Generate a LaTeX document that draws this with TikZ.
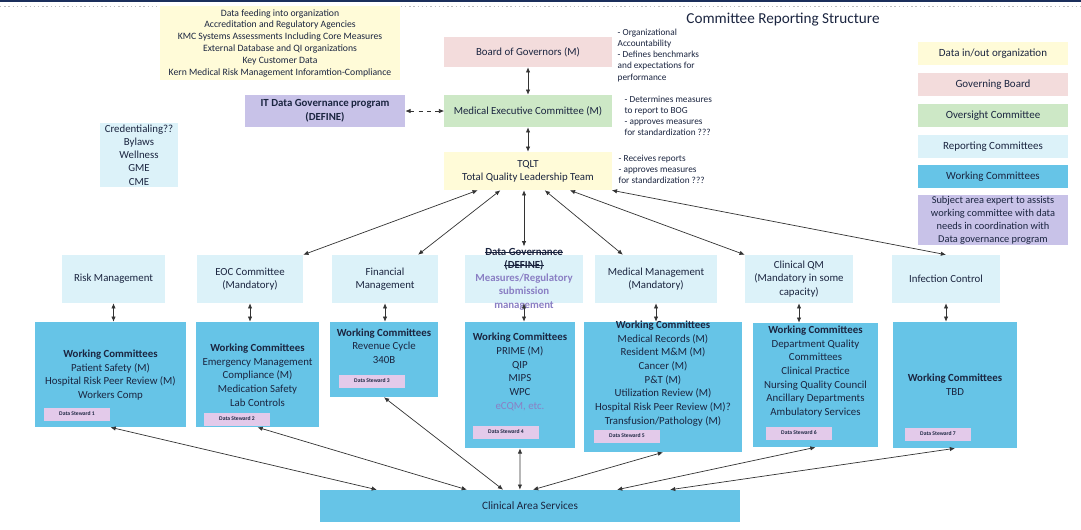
\documentclass[tikz,border=0pt]{standalone}
\usepackage{fontspec}
\setmainfont{Carlito}
\usetikzlibrary{calc,arrows.meta,positioning}
\definecolor{crs-text}{HTML}{1B2540}
\definecolor{crs-navy}{HTML}{1B2F5C}
\definecolor{crs-line}{HTML}{333333}
\definecolor{crs-yellow}{HTML}{FFFBD8}
\definecolor{crs-pink}{HTML}{F3DCDC}
\definecolor{crs-green}{HTML}{CDE8C6}
\definecolor{crs-cyan}{HTML}{DCF2F9}
\definecolor{crs-blue}{HTML}{66C4E7}
\definecolor{crs-lav}{HTML}{C8C2E8}
\definecolor{crs-pill}{HTML}{E3CAEA}
\definecolor{crs-purple}{HTML}{8A7FC4}
\newcommand{\strk}[1]{\setbox0\hbox{#1}\rlap{\rule[0.27em]{\wd0}{0.5pt}}\box0}

\begin{document}
\begin{tikzpicture}[
    x=0.025cm, y=-0.025cm,
    font=\fontsize{7.7}{9.4}\selectfont,
    >={Latex[length=1.3mm,width=1.1mm]}
  ]

  % Global Style Definitions
  \tikzset{
    crsbase/.style={text=crs-text, align=center, inner sep=1pt},
    datain/.style={crsbase, fill=crs-yellow, minimum width=6cm, minimum height=1.85cm, font=\fontsize{6.9}{8.4}\selectfont},
    govbox/.style={crsbase, fill=crs-pink, minimum width=4.175cm, minimum height=0.75cm},
    oversight/.style={crsbase, fill=crs-green, minimum width=4.175cm, minimum height=0.8cm},
    itbox/.style={crsbase, fill=crs-lav, minimum width=4cm, minimum height=0.8cm, font=\fontsize{7.7}{9.6}\selectfont\bfseries},
    repbox/.style={crsbase, fill=crs-cyan, minimum height=1.2cm},
    workbox/.style={crsbase, fill=crs-blue},
    wctext/.style={crsbase, font=\fontsize{7.7}{9.7}\selectfont},
    pill/.style={crsbase, fill=crs-pill, minimum width=1.65cm, minimum height=0.325cm, font=\fontsize{4}{5}\selectfont\bfseries},
    note/.style={crsbase, align=left, anchor=north west, font=\fontsize{6.6}{8}\selectfont},
    keybox/.style={crsbase, minimum width=3.75cm, minimum height=0.575cm, font=\fontsize{7.8}{9.2}\selectfont},
    link/.style={<->, crs-line, line width=0.5pt}
  }

  \fill[white] (0,0) rectangle (1081,529);
  \useasboundingbox (0,0) rectangle (1081,529);
  \draw[crs-navy, line width=1.2pt] (0,1) -- (1081,1);
  \draw[black!25, dash pattern=on 1pt off 2pt] (0,6) -- (1081,6);

  % Title and incoming data
  \node (title) [crsbase, font=\fontsize{10.8}{12}\selectfont] at (783,20) {Committee Reporting Structure};
  \node (datain) [datain] at (280,43) {Data feeding into organization\\Accreditation and Regulatory Agencies\\KMC Systems Assessments Including Core Measures\\External Database and QI organizations\\Key Customer Data\\Kern Medical Risk Management Inforamtion-Compliance};

  % Governance spine
  \node (bog)  [govbox] at (528,52) {Board of Governors (M)};
  \node (mec)  [oversight] at (528,111) {Medical Executive Committee (M)};
  \node (tqlt) [crsbase, fill=crs-yellow, minimum width=4.175cm, minimum height=0.95cm] at (528,171) {TQLT\\Total Quality Leadership Team};
  \node (itdg) [itbox] at (325,111) {IT Data Governance program\\(DEFINE)};
  \node (cred) [crsbase, fill=crs-cyan, minimum width=1.95cm, minimum height=1.6cm] at (139,155) {Credentialing??\\Bylaws\\Wellness\\GME\\CME};

  % Side notes
  \node (bognote)  [note] at (616,27) {- Organizational\\Accountability\\- Defines benchmarks\\and expectations for\\performance};
  \node (mecnote)  [note] at (623,94) {- Determines measures\\to report to BOG\\- approves measures\\for standardization ???};
  \node (tqltnote) [note] at (617,153) {- Receives reports\\- approves measures\\for standardization ???};

  % Legend
  \node (keydata) [keybox, fill=crs-yellow] at (993,53.5) {Data in/out organization};
  \node (keygov)  [keybox, fill=crs-pink] at (993,84.5) {Governing Board};
  \node (keyover) [keybox, fill=crs-green] at (993,115.5) {Oversight Committee};
  \node (keyrep)  [keybox, fill=crs-cyan] at (993,146.5) {Reporting Committees};
  \node (keywork) [keybox, fill=crs-blue] at (993,176.5) {Working Committees};
  \node (keyds)   [keybox, fill=crs-lav, minimum height=1.25cm, font=\fontsize{7.4}{9.2}\selectfont] at (993,220) {Subject area expert to assists\\working committee with data\\needs in coordination with\\Data governance program};

  % Reporting committees
  \node (risk) [repbox, minimum width=2.575cm] at (113.5,279) {Risk Management};
  \node (eoc)  [repbox, minimum width=2.65cm] at (250,279) {EOC Committee\\(Mandatory)};
  \node (fin)  [repbox, minimum width=2.65cm] at (385,279) {Financial\\Management};
  \node (dg)   [repbox, minimum width=2.95cm] at (524,279) {};
  \node (dglabel) [crsbase] at (524,279) {\strk{\textbf{Data Governance}}\\\strk{\textbf{(DEFINE)}}\\\textcolor{crs-purple}{\textbf{Measures/Regulatory}}\\\textcolor{crs-purple}{\textbf{submission}}\\\textcolor{crs-purple}{\textbf{management}}};
  \node (mm)   [repbox, minimum width=3.05cm] at (656,279) {Medical Management\\(Mandatory)};
  \node (cqm)  [repbox, minimum width=2.7cm] at (799,279) {Clinical QM\\(Mandatory in some\\capacity)};
  \node (ic)   [repbox, minimum width=2.7cm] at (946,279) {Infection Control};

  % Working committees
  \node (wc1) [workbox, minimum width=3.775cm, minimum height=2.625cm] at (110.5,374.5) {};
  \node (wc2) [workbox, minimum width=3.075cm, minimum height=2.625cm] at (257.5,374.5) {};
  \node (wc3) [workbox, minimum width=2.7cm, minimum height=1.875cm] at (384,359.5) {};
  \node (wc4) [workbox, minimum width=2.75cm, minimum height=3.15cm] at (520,385) {};
  \node (wc5) [workbox, minimum width=3.95cm, minimum height=3.25cm] at (663,387) {};
  \node (wc6) [workbox, minimum width=3.125cm, minimum height=3.1cm] at (815.5,385) {};
  \node (wc7) [workbox, minimum width=3.1cm, minimum height=3.15cm] at (955,385) {};

  \node (wc1txt) [wctext] at (110.5,375) {\textbf{Working Committees}\\Patient Safety (M)\\Hospital Risk Peer Review (M)\\Workers Comp};
  \node (wc2txt) [wctext] at (257.5,375) {\textbf{Working Committees}\\Emergency Management\\Compliance (M)\\Medication Safety\\Lab Controls};
  \node (wc3txt) [wctext] at (384,346) {\textbf{Working Committees}\\Revenue Cycle\\340B};
  \node (wc4txt) [wctext] at (520,372) {\textbf{Working Committees}\\PRIME (M)\\QIP\\MIPS\\WPC\\\textcolor{crs-purple}{eCQM, etc.}};
  \node (wc5txt) [wctext] at (663,373.5) {\textbf{Working Committees}\\Medical Records (M)\\Resident M\&M (M)\\Cancer (M)\\P\&T (M)\\Utilization Review (M)\\Hospital Risk Peer Review (M)?\\Transfusion/Pathology (M)};
  \node (wc6txt) [wctext] at (815.5,371.5) {\textbf{Working Committees}\\Department Quality\\Committees\\Clinical Practice\\Nursing Quality Council\\Ancillary Departments\\Ambulatory Services};
  \node (wc7txt) [wctext] at (955,385) {\textbf{Working Committees}\\TBD};

  % Data stewards
  \node (ds1) [pill] at (77,414) {Data Steward 1};
  \node (ds2) [pill] at (237,419) {Data Steward 2};
  \node (ds3) [pill] at (372,381) {Data Steward 3};
  \node (ds4) [pill] at (506,432) {Data Steward 4};
  \node (ds5) [pill] at (627,436) {Data Steward 5};
  \node (ds6) [pill] at (799,433) {Data Steward 6};
  \node (ds7) [pill] at (938,434) {Data Steward 7};

  % Shared services
  \node (cas) [workbox, minimum width=10.5cm, minimum height=0.8cm, font=\fontsize{8}{9.6}\selectfont] at (530,506) {Clinical Area Services};

  % Governance links
  \draw[link] (bog.south) -- (mec.north);
  \draw[link] (mec.south) -- (tqlt.north);
  \draw[link, dashed] (itdg.east) -- (mec.west);

  % TQLT to reporting committees
  \draw[link] ($(tqlt.south west)!0.2!(tqlt.south east)$) -- (eoc.north east);
  \draw[link] ($(tqlt.south west)!0.335!(tqlt.south east)$) -- ($(fin.north west)!0.81!(fin.north east)$);
  \draw[link] (tqlt.south -| dglabel.north) -- (dglabel.north);
  \draw[link] ($(tqlt.south west)!0.6!(tqlt.south east)$) -- ($(mm.north west)!0.23!(mm.north east)$);
  \draw[link] ($(tqlt.south west)!0.75!(tqlt.south east)$) -- (cqm.north west);
  \draw[link] (tqlt.south east) -- (ic.north);

  % Reporting to working
  \draw[link] (risk.south) -- (risk.south |- wc1.north);
  \draw[link] (eoc.south) -- (eoc.south |- wc2.north);
  \draw[link] (fin.south) -- (fin.south |- wc3.north);
  \draw[link] (dg.south) -- (dg.south |- wc4.north);
  \draw[link] (mm.south) -- (mm.south |- wc5.north);
  \draw[link] (cqm.south) -- (cqm.south |- wc6.north);
  \draw[link] (ic.south) -- (ic.south |- wc7.north);

  % Working committees to clinical area services
  \draw[link] (wc1.south) -- ($(cas.north west)!0.136!(cas.north east)$);
  \draw[link] (wc2.south) -- ($(cas.north west)!0.35!(cas.north east)$);
  \draw[link] (wc3.south) -- ($(cas.north west)!0.436!(cas.north east)$);
  \draw[link] (wc4.south) -- ($(cas.north west)!0.476!(cas.north east)$);
  \draw[link] (wc5.south) -- ($(cas.north west)!0.507!(cas.north east)$);
  \draw[link] (wc6.south) -- ($(cas.north west)!0.707!(cas.north east)$);
  \draw[link] (wc7.south) -- ($(cas.north west)!0.833!(cas.north east)$);

\end{tikzpicture}
\end{document}
